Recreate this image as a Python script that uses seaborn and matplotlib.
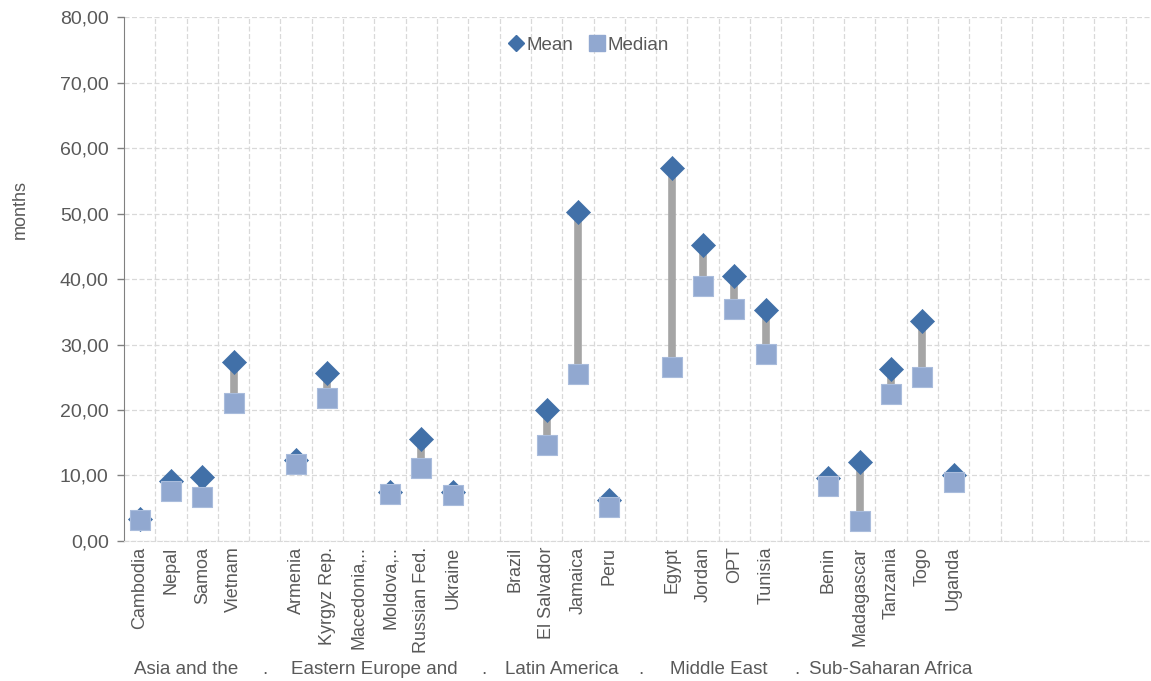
import numpy as np
import pandas as pd
import seaborn as sns
import matplotlib
matplotlib.use("Agg")
import matplotlib.pyplot as plt
from matplotlib.lines import Line2D
from matplotlib.ticker import FuncFormatter, MultipleLocator

# countries in chart order, '' marks the empty gap slots
countries = [
    "Cambodia", "Nepal", "Samoa", "Vietnam", "",
    "Armenia", "Kyrgyz Rep.", "Macedonia,..", "Moldova,..", "Russian Fed.", "Ukraine", "",
    "Brazil", "El Salvador", "Jamaica", "Peru", "",
    "Egypt", "Jordan", "OPT", "Tunisia", "",
    "Benin", "Madagascar", "Tanzania", "Togo", "Uganda",
    "", "", "", "", "",
]
mean = [
    3.4, 9.1, 9.8, 27.4, np.nan,
    12.4, 25.7, np.nan, 7.5, 15.6, 7.5, np.nan,
    np.nan, 20.0, 50.3, 6.3, np.nan,
    57.0, 45.2, 40.4, 35.2, np.nan,
    9.6, 12.0, 26.3, 33.6, 10.0,
    np.nan, np.nan, np.nan, np.nan, np.nan,
]
median = [
    3.2, 7.6, 6.7, 21.1, np.nan,
    11.8, 21.9, np.nan, 7.2, 11.1, 7.0, np.nan,
    np.nan, 14.6, 25.5, 5.2, np.nan,
    26.6, 39.0, 35.4, 28.6, np.nan,
    8.4, 3.1, 22.4, 25.1, 9.0,
    np.nan, np.nan, np.nan, np.nan, np.nan,
]
# region labels (truncated as in the source) and the slot they are centred on
regions = ["Asia and the", ".", "Eastern Europe and", ".", "Latin America", ".",
           "Middle East", ".", "Sub-Saharan Africa"]
region_pos = [1.5, 4, 7.5, 11, 13.5, 16, 18.5, 21, 24]

df = pd.DataFrame({"pos": np.arange(len(countries)), "country": countries,
                   "Mean": mean, "Median": median})

sns.set_style("white")
plt.rcParams["font.family"] = ["Liberation Sans Narrow", "Liberation Sans", "DejaVu Sans"]

grey_txt = "#595959"
c_mean = "#4170A8"
c_median = "#91A8D0"

fig = plt.figure(figsize=(11.51, 6.81), dpi=100)
ax = fig.add_axes([0.1077, 0.2056, 0.8913, 0.7694])

d = df.dropna()
ax.vlines(d["pos"], d["Median"], d["Mean"], color="#A5A5A5", lw=5.5, zorder=2)
sns.scatterplot(data=df, x="pos", y="Mean", marker="D", s=150, color=c_mean,
                edgecolor=c_mean, linewidth=0.5, ax=ax, zorder=3)
sns.scatterplot(data=df, x="pos", y="Median", marker="s", s=215, color=c_median,
                edgecolor="#A9BCDC", linewidth=0.8, ax=ax, zorder=4)

ax.set_xlim(-0.5, 32.27)
ax.set_ylim(0, 80)
ax.yaxis.set_major_locator(MultipleLocator(10))
ax.yaxis.set_major_formatter(FuncFormatter(lambda v, p: f"{v:.2f}".replace(".", ",")))

ax.set_xticks(df["pos"])
ax.set_xticklabels(df["country"], rotation=90, fontsize=13, color=grey_txt)
ax.tick_params(axis="x", length=0, pad=4)
ax.tick_params(axis="y", length=5, width=1, color="#808080", labelsize=14, pad=6,
               labelcolor=grey_txt, direction="out", left=True)

# gridlines
ax.set_xticks(np.arange(0.5, 32, 1), minor=True)
ax.tick_params(axis="x", which="minor", length=0)
ax.grid(True, which="minor", axis="x", color="#D9D9D9", ls=(0, (4, 2)), lw=0.9, zorder=0)
ax.grid(True, which="major", axis="y", color="#D9D9D9", ls=(0, (4, 2)), lw=0.9, zorder=0)

for s in ["top", "right"]:
    ax.spines[s].set_visible(False)
ax.spines["left"].set_color("#808080")
ax.spines["bottom"].set_color("#D9D9D9")
ax.spines["bottom"].set_linestyle((0, (4, 2)))

ax.set_xlabel("")
ax.set_ylabel("months", fontsize=13, color=grey_txt)
ax.yaxis.set_label_coords(-0.093, 0.632)

for lab, p in zip(regions, region_pos):
    ax.text(p, -0.245, lab, transform=ax.get_xaxis_transform(), ha="center",
            va="center", fontsize=13.5, color=grey_txt)

handles = [Line2D([], [], marker="D", ls="", color=c_mean, markersize=8),
           Line2D([], [], marker="s", ls="", color=c_median, markersize=11)]
ax.legend(handles, ["Mean", "Median"], loc="upper center", bbox_to_anchor=(0.452, 0.995),
          ncol=2, frameon=False, fontsize=13.5, handletextpad=0.05, columnspacing=0.8,
          handlelength=1.0, labelcolor=grey_txt)

fig.savefig("out.png", dpi=100)
